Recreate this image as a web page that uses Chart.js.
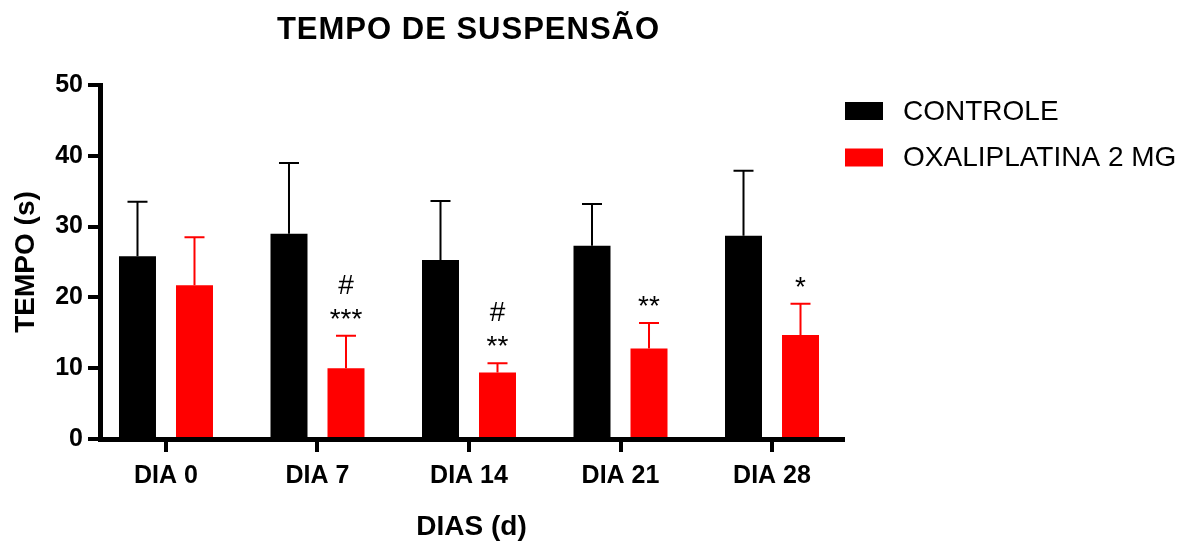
<!DOCTYPE html>
<html>
<head>
<meta charset="utf-8">
<title>TEMPO DE SUSPENSÃO</title>
<script src="https://cdn.jsdelivr.net/npm/chart.js@4/dist/chart.umd.min.js"></script>
<style>
  html, body { margin: 0; padding: 0; background: #fff; }
  #wrap { width: 1202px; height: 546px; position: relative; }
</style>
</head>
<body>
<div id="wrap"><canvas id="chart"></canvas></div>
<script>
// Categories and tick labels
const categories = ['DIA 0', 'DIA 7', 'DIA 14', 'DIA 21', 'DIA 28'];
const yTicks = [0, 10, 20, 30, 40, 50];

// Mean suspension time (s) and upper error (SD)
const controle = [25.8, 29.0, 25.3, 27.3, 28.7];
const controleErr = [7.7, 10.0, 8.3, 5.9, 9.2];
const oxali = [21.7, 10.0, 9.4, 12.8, 14.7];
const oxaliErr = [6.8, 4.6, 1.3, 3.6, 4.4];

// Significance marks above the oxaliplatin bars
const starMarks = ['', '***', '**', '**', '*'];
const hashMarks = ['', '#', '#', '', ''];

const FONT = "'Liberation Sans', Arial, Helvetica, sans-serif";
const errors = [controleErr, oxaliErr];

// Upward error bars with caps
const errorBars = {
  id: 'errorBars',
  afterDatasetsDraw(chart) {
    const ctx = chart.ctx;
    const y = chart.scales.y;
    chart.data.datasets.forEach((ds, di) => {
      const meta = chart.getDatasetMeta(di);
      meta.data.forEach((bar, i) => {
        const top = y.getPixelForValue(ds.data[i].y + errors[di][i]);
        ctx.save();
        ctx.strokeStyle = ds.backgroundColor;
        ctx.lineWidth = 2;
        ctx.beginPath();
        ctx.moveTo(bar.x, bar.y);
        ctx.lineTo(bar.x, top);
        ctx.moveTo(bar.x - 10, top);
        ctx.lineTo(bar.x + 10, top);
        ctx.stroke();
        ctx.restore();
      });
    });
  }
};

// Significance labels, title and legend
const decorations = {
  id: 'decorations',
  afterDraw(chart) {
    const ctx = chart.ctx;
    const y = chart.scales.y;
    const area = chart.chartArea;
    const meta = chart.getDatasetMeta(1);
    ctx.save();
    ctx.fillStyle = '#000';
    ctx.textAlign = 'center';
    ctx.textBaseline = 'alphabetic';
    ctx.font = '28px ' + FONT;
    meta.data.forEach((bar, i) => {
      const top = y.getPixelForValue(oxali[i] + oxaliErr[i]);
      const starCenter = top - 20;
      if (starMarks[i]) ctx.fillText(starMarks[i], bar.x, starCenter + 12);
      if (hashMarks[i]) ctx.fillText(hashMarks[i], bar.x, starCenter - 32 + 10);
    });

    // Chart title
    ctx.font = 'bold 31px ' + FONT;
    if ('letterSpacing' in ctx) ctx.letterSpacing = '1px';
    ctx.fillText('TEMPO DE SUSPENSÃO', (area.left + area.right) / 2 - 3, 39);
    if ('letterSpacing' in ctx) ctx.letterSpacing = '0px';

    // Legend
    ctx.textAlign = 'left';
    ctx.textBaseline = 'middle';
    ctx.font = '28px ' + FONT;
    chart.data.datasets.forEach((ds, di) => {
      const cy = 111 + di * 46.5;
      ctx.fillStyle = ds.backgroundColor;
      ctx.fillRect(845, cy - 9, 38, 18);
      ctx.fillStyle = '#000';
      ctx.fillText(ds.label, 903, cy + 1);
    });
    ctx.restore();
  }
};

const toPoints = (vals) => vals.map((v, i) => ({ x: i, y: v }));

new Chart(document.getElementById('chart'), {
  type: 'bar',
  data: {
    datasets: [
      { label: 'CONTROLE', data: toPoints(controle), backgroundColor: '#000000' },
      { label: 'OXALIPLATINA 2 MG', data: toPoints(oxali), backgroundColor: '#ff0000' }
    ]
  },
  options: {
    responsive: true,
    maintainAspectRatio: false,
    animation: false,
    devicePixelRatio: 1,
    categoryPercentage: 0.7525,
    barPercentage: 0.649,
    layout: { padding: { top: 85, right: 359, bottom: 0, left: 0 } },
    plugins: {
      legend: { display: false },
      title: { display: false },
      tooltip: { enabled: false }
    },
    scales: {
      x: {
        type: 'linear',
        offset: false,
        min: -0.4356,
        max: 4.4686,
        afterFit(scale) { scale.height = 107; },
        afterBuildTicks(scale) { scale.ticks = categories.map((_, i) => ({ value: i })); },
        ticks: {
          autoSkip: false,
          maxRotation: 0,
          color: '#000',
          padding: 9,
          font: { family: FONT, size: 25, weight: 'bold' },
          callback: (v) => categories[v]
        },
        grid: { offset: false, drawOnChartArea: false, drawTicks: true, tickLength: 13, color: '#000', lineWidth: 4 },
        border: { display: true, color: '#000', width: 5 },
        title: {
          display: true,
          text: 'DIAS (d)',
          color: '#000',
          font: { family: FONT, size: 28, weight: 'bold' },
          padding: { top: 0, bottom: 2 }
        }
      },
      y: {
        min: 0,
        max: 50,
        afterFit(scale) { scale.width = 100; },
        afterBuildTicks(scale) { scale.ticks = yTicks.map((v) => ({ value: v })); },
        ticks: {
          color: '#000',
          padding: 5,
          font: { family: FONT, size: 25, weight: 'bold' }
        },
        grid: { drawOnChartArea: false, drawTicks: true, tickLength: 12, color: '#000', lineWidth: 4 },
        border: { display: true, color: '#000', width: 5 },
        title: {
          display: true,
          text: 'TEMPO (s)',
          color: '#000',
          font: { family: FONT, size: 28, weight: 'bold' },
          padding: { top: 9, bottom: 0 }
        }
      }
    }
  },
  plugins: [errorBars, decorations]
});
</script>
</body>
</html>
